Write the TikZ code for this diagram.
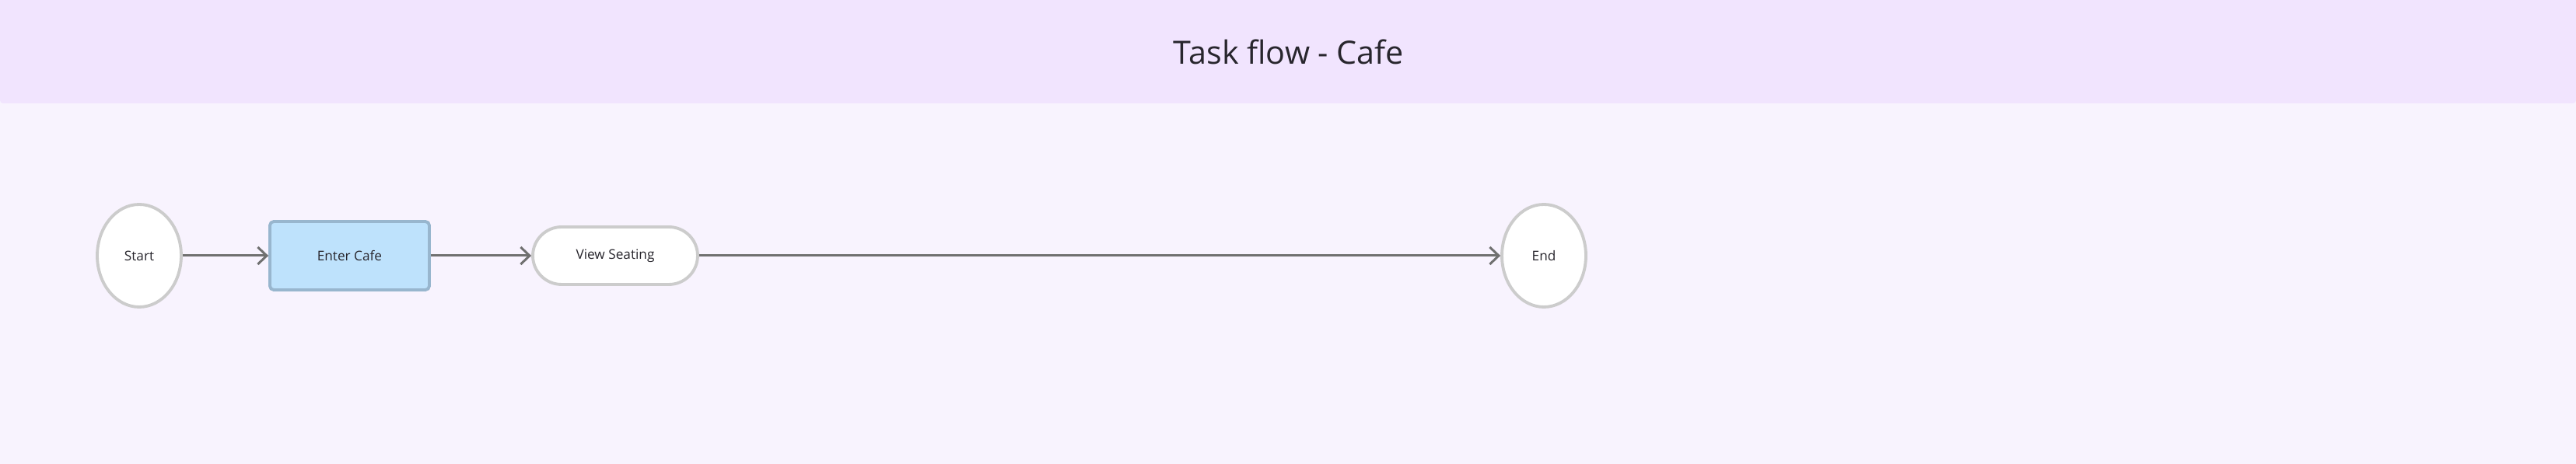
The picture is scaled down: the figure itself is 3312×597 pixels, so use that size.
\documentclass[tikz,border=0pt]{standalone}
\usepackage{fontspec}
\setmainfont{Open Sans}
\usetikzlibrary{arrows.meta,shapes.geometric}
\definecolor{headbg}{RGB}{241,228,254}
\definecolor{bodybg}{RGB}{248,243,254}
\definecolor{nodegray}{RGB}{204,204,204}
\definecolor{taskfill}{RGB}{190,226,252}
\definecolor{taskdraw}{RGB}{152,182,206}
\definecolor{txt}{RGB}{40,38,45}
\definecolor{linkgray}{RGB}{112,112,112}

\begin{document}
\begin{tikzpicture}[x=0.02cm,y=0.02cm,
	terminal/.style={ellipse,draw=nodegray,line width=2.2pt,fill=white,
		minimum width=2.16cm,minimum height=2.64cm,inner sep=0pt,
		text=txt,font=\fontsize{9.8}{11}\selectfont},
	task/.style={rectangle,rounded corners=0.1cm,draw=taskdraw,line width=2.2pt,
		fill=taskfill,minimum width=4.1cm,minimum height=1.76cm,
		text=txt,font=\fontsize{9.8}{11}\selectfont},
	view/.style={rectangle,rounded corners=0.74cm,draw=nodegray,line width=2.2pt,
		fill=white,minimum width=4.24cm,minimum height=1.48cm,
		text=txt,font=\fontsize{9.8}{11}\selectfont},
	flow/.style={draw=linkgray,line width=1.7pt,
		-{Straight Barb[length=0.23cm,width=0.44cm]}}]
	\useasboundingbox (0,0) rectangle (3312,597);
	\fill[bodybg] (0,0) rectangle (3312,597);
	\fill[headbg,rounded corners=0.08cm] (0,464) rectangle (3312,620);
	\node[text=txt,font=\fontsize{23.5}{28}\selectfont] (title) at (1657,530) {Task flow - Cafe};
	
	\node[terminal] (start) at (179,268) {Start};
	\node[task] (enter) at (449.5,268) {Enter Cafe};
	\node[view] (seating) at (791,268) {View Seating};
	\node[terminal] (end) at (1985,268) {End};
	
	\draw[flow] (start) -- (enter);
	\draw[flow] (enter) -- (seating);
	\draw[flow] (seating) -- (end);
\end{tikzpicture}
\end{document}
